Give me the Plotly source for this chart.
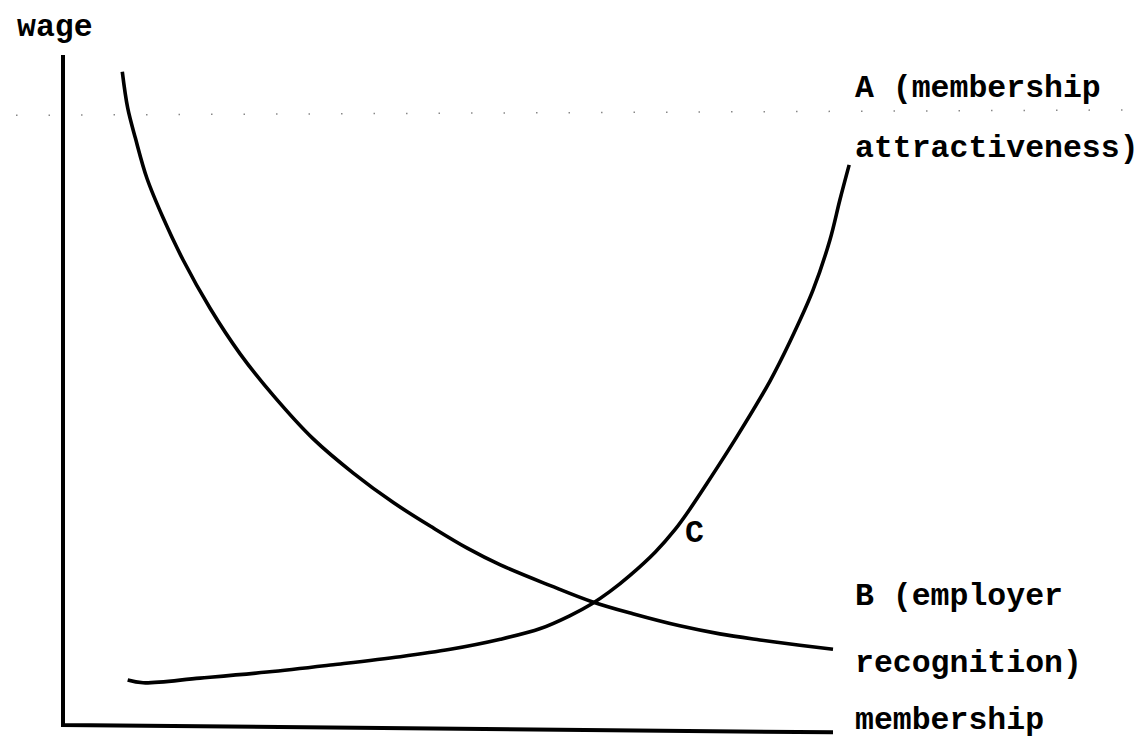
import plotly.graph_objects as go

# Curve B (employer recognition): wage falls as membership rises
b_membership = [7.7, 8.4, 9.4, 10.9, 13.0, 15.6, 19.1, 23.0, 27.3, 32.5, 37.7, 42.9,
                48.1, 52.5, 56.8, 63.3, 68.7, 74.0, 80.1, 85.3, 90.5, 95.7, 100.0]
b_wage = [97.5, 92.1, 87.6, 81.6, 75.7, 69.4, 62.2, 55.4, 49.2, 42.7, 37.6, 33.2,
          29.4, 26.4, 23.9, 20.8, 18.4, 16.6, 14.8, 13.6, 12.7, 11.9, 11.3]

# Curve A (membership attractiveness): wage rises as membership rises
a_membership = [8.4, 10.4, 17.8, 26.5, 35.1, 43.8, 50.3, 56.8, 62.0, 65.8, 68.7, 71.0,
                73.6, 76.9, 79.5, 81.4, 83.6, 87.5, 91.8, 94.4, 97.4, 99.6, 100.9, 102.1]
a_wage = [6.7, 6.3, 7.0, 7.9, 9.0, 10.2, 11.3, 12.8, 14.4, 16.3, 18.1, 19.9,
          22.3, 25.8, 29.2, 32.2, 36.0, 43.0, 51.3, 57.2, 64.9, 72.4, 78.4, 83.6]

# Axes drawn as lines (slight tilt as in the scanned original)
axis_x = [0.0, 0.0, 100.0]
axis_y = [100.0, 0.0, -1.1]

# faint dotted scan line
dot_x = [-6.1, 138.2]
dot_y = [91.0, 91.8]

labels = ["wage", "A (membership", "attractiveness)", "B (employer",
          "recognition)", "membership", "C"]
label_x = [-6.2, 102.6, 102.6, 102.6, 102.6, 102.6, 80.5]
label_y = [104.1, 95.0, 86.0, 19.2, 9.2, 0.7, 28.6]

fig = go.Figure()
fig.add_trace(go.Scatter(x=dot_x, y=dot_y, mode="lines",
                         line=dict(color="#888888", width=1.5, dash="1.5px,31px"),
                         hoverinfo="skip", showlegend=False))
fig.add_trace(go.Scatter(x=axis_x, y=axis_y, mode="lines",
                         line=dict(color="black", width=4),
                         hoverinfo="skip", showlegend=False))
fig.add_trace(go.Scatter(x=b_membership, y=b_wage, mode="lines",
                         line=dict(color="black", width=3.6, shape="spline", smoothing=1.0),
                         name="B", showlegend=False))
fig.add_trace(go.Scatter(x=a_membership, y=a_wage, mode="lines",
                         line=dict(color="black", width=3.6, shape="spline", smoothing=1.0),
                         name="A", showlegend=False))

for t, x, y in zip(labels, label_x, label_y):
    fig.add_annotation(x=x, y=y, text=t, showarrow=False, xanchor="left", yanchor="middle",
                       font=dict(family="Liberation Mono", size=31.5, color="black", weight="bold"))

fig.update_layout(
    width=1141, height=737,
    margin=dict(l=0, r=0, t=0, b=0),
    paper_bgcolor="white", plot_bgcolor="white",
    xaxis=dict(range=[-63 / 7.7, (1141 - 63) / 7.7], visible=False, fixedrange=True),
    yaxis=dict(range=[(725 - 737) / 6.7, 725 / 6.7], visible=False, fixedrange=True),
    showlegend=False,
)

fig.write_html("out.html", config={"displayModeBar": False, "staticPlot": True},
               post_script="document.body.style.margin='0';document.body.style.overflow='hidden';")
